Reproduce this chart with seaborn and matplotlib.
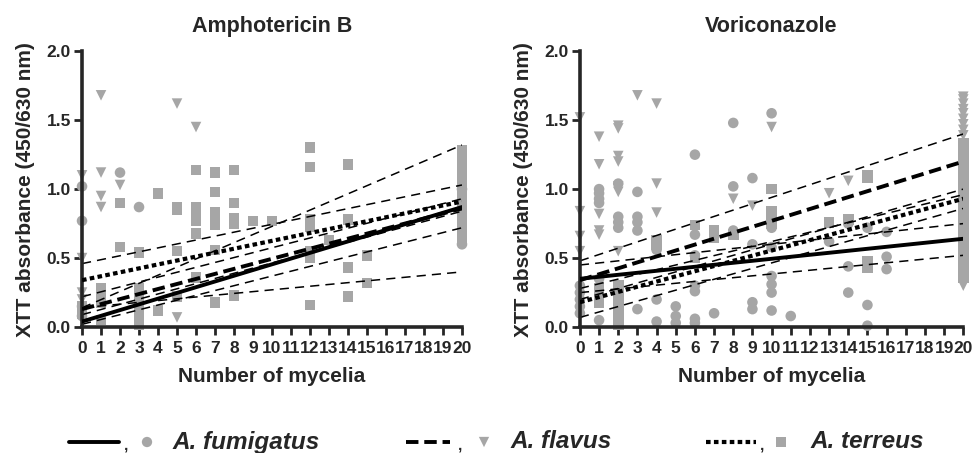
import numpy as np
import pandas as pd
import matplotlib
matplotlib.use('Agg')
import matplotlib.pyplot as plt
import seaborn as sns

# ---- data ----
species = ['A. fumigatus', 'A. flavus', 'A. terreus']

# Amphotericin B panel, scatter points
amb_fum_x = [0, 0, 0, 0, 2, 3, 20, 20]
amb_fum_y = [1.02, 0.77, 0.15, 0.08, 1.12, 0.87, 1.00, 0.60]
amb_flav_x = [0, 0, 0, 0, 1, 1, 1, 1, 2, 5, 5, 6]
amb_flav_y = [1.10, 0.50, 0.25, 0.20, 1.68, 1.12, 0.95, 0.87, 1.03, 1.62, 0.07, 1.45]
amb_terr_x = [0, 0, 1, 1, 1, 1, 2, 2, 3, 3, 3, 3, 3, 3, 4, 4, 5, 5, 5, 5,
              6, 6, 6, 6, 6, 6, 7, 7, 7, 7, 7, 7, 7, 8, 8, 8, 8, 8, 9, 10,
              12, 12, 12, 12, 12, 12, 12, 13, 14, 14, 14, 14, 15, 15,
              20, 20, 20, 20, 20, 20, 20, 20, 20, 20, 20, 20]
amb_terr_y = [0.15, 0.10, 0.28, 0.22, 0.18, 0.05, 0.90, 0.58, 0.54, 0.28, 0.20, 0.12, 0.05, 0.02,
              0.97, 0.12, 0.87, 0.85, 0.55, 0.22,
              1.14, 0.87, 0.82, 0.77, 0.68, 0.36, 1.12, 0.98, 0.83, 0.78, 0.74, 0.56, 0.18,
              1.14, 0.90, 0.79, 0.75, 0.23, 0.77, 0.77,
              1.30, 1.16, 0.78, 0.73, 0.55, 0.50, 0.16, 0.63, 1.18, 0.78, 0.43, 0.22, 0.52, 0.32,
              1.28, 1.25, 1.17, 1.10, 1.05, 0.95, 0.90, 0.85, 0.80, 0.75, 0.70, 0.65]

# Voriconazole panel, scatter points
vor_fum_x = [0, 0, 0, 0, 0, 1, 1, 1, 1, 1, 1, 2, 2, 2, 2, 2, 3, 3, 3, 3, 3,
             4, 4, 4, 5, 5, 5, 6, 6, 6, 6, 6, 6, 6, 7, 8, 8, 8, 9, 9, 9, 9,
             10, 10, 10, 10, 10, 10, 10, 10, 11, 13, 14, 14, 14, 15, 15, 15, 16, 16, 16]
vor_fum_y = [0.30, 0.25, 0.20, 0.15, 0.10, 1.00, 0.97, 0.93, 0.90, 0.35, 0.05,
             1.04, 0.80, 0.76, 0.72, 0.30, 0.98, 0.80, 0.76, 0.70, 0.13,
             0.56, 0.20, 0.04, 0.15, 0.08, 0.03, 1.25, 0.67, 0.52, 0.30, 0.26, 0.06, 0.03,
             0.10, 1.48, 1.02, 0.70, 1.08, 0.60, 0.18, 0.13,
             1.55, 0.78, 0.72, 0.58, 0.37, 0.31, 0.25, 0.12, 0.08, 0.62,
             0.75, 0.44, 0.25, 0.72, 0.16, 0.01, 0.69, 0.51, 0.42]
vor_flav_x = [0, 0, 0, 0, 1, 1, 1, 1, 1, 2, 2, 2, 2, 2, 2, 2, 3, 4, 4, 4,
              8, 9, 10, 13, 14,
              20, 20, 20, 20, 20, 20, 20, 20, 20, 20, 20, 20, 20, 20, 20]
vor_flav_y = [1.52, 0.84, 0.66, 0.55, 1.38, 1.18, 0.82, 0.70, 0.67,
              1.46, 1.44, 1.24, 1.20, 1.02, 0.98, 0.55, 1.68, 1.62, 1.04, 0.83,
              0.93, 0.88, 1.45, 0.97, 1.06,
              1.67, 1.65, 1.62, 1.58, 1.55, 1.51, 1.47, 1.43, 1.39, 0.50, 0.45, 0.41, 0.37, 0.33, 0.30]
vor_terr_x = [1, 1, 1, 2, 2, 2, 2, 2, 2, 2, 4, 4, 6, 6, 7, 7, 8,
              10, 10, 10, 10, 13, 14, 15, 15, 15, 15,
              20, 20, 20, 20, 20, 20, 20, 20, 20, 20, 20, 20, 20, 20, 20, 20, 20, 20, 20, 20, 20]
vor_terr_y = [0.28, 0.22, 0.18, 0.30, 0.25, 0.20, 0.15, 0.10, 0.06, 0.02,
              0.63, 0.60, 0.74, 0.50, 0.70, 0.65, 0.67,
              1.00, 0.84, 0.80, 0.75, 0.76, 0.78, 1.10, 1.08, 0.48, 0.43,
              1.33, 1.29, 1.24, 1.18, 1.13, 1.07, 1.02, 0.97, 0.92, 0.86, 0.81, 0.76,
              0.70, 0.65, 0.60, 0.55, 0.49, 0.44, 0.40, 0.36, 0.53]

# regression lines: value at x=0 and at x=20
amb_fit_start = [0.04, 0.13, 0.34]
amb_fit_end = [0.87, 0.86, 0.91]
amb_ci_start = [0.46, 0.14, 0.22, 0.09, 0.02, 0.14]
amb_ci_end = [1.03, 1.32, 0.93, 0.84, 0.72, 0.40]

vor_fit_start = [0.35, 0.34, 0.18]
vor_fit_end = [0.64, 1.20, 0.93]
vor_ci_start = [0.45, 0.25, 0.48, 0.20, 0.28, 0.07]
vor_ci_end = [0.75, 0.52, 1.40, 1.00, 0.96, 0.86]

fit_x = [0, 20]

sns.set_style('ticks')
plt.rcParams['font.family'] = ['Liberation Sans', 'DejaVu Sans']
plt.rcParams['font.weight'] = 'bold'

grey = '#a6a6a6'
markers = {'A. fumigatus': 'o', 'A. flavus': 'v', 'A. terreus': 's'}
fit_styles = [dict(ls='-', lw=2.8),
              dict(ls=(0, (3.2, 1.5)), lw=2.8),
              dict(ls=(0, (1.1, 0.8)), lw=3.0)]


def make_df(xs, ys):
    parts = []
    for name, x, y in zip(species, xs, ys):
        parts.append(pd.DataFrame({'x': x, 'y': y, 'species': name}))
    return pd.concat(parts, ignore_index=True)


amb = make_df([amb_fum_x, amb_flav_x, amb_terr_x], [amb_fum_y, amb_flav_y, amb_terr_y])
vor = make_df([vor_fum_x, vor_flav_x, vor_terr_x], [vor_fum_y, vor_flav_y, vor_terr_y])

fig = plt.figure(figsize=(9.73, 4.53), dpi=100)
ax1 = fig.add_axes([0.0843, 0.278, 0.3905, 0.609])
ax2 = fig.add_axes([0.596, 0.278, 0.394, 0.609])

panels = [(ax1, amb, 'Amphotericin B', amb_fit_start, amb_fit_end, amb_ci_start, amb_ci_end),
          (ax2, vor, 'Voriconazole', vor_fit_start, vor_fit_end, vor_ci_start, vor_ci_end)]

for ax, df, title, fs, fe, cs, ce in panels:
    sns.scatterplot(data=df, x='x', y='y', style='species', markers=markers,
                    color=grey, s=58, edgecolor='none', legend=False,
                    clip_on=False, ax=ax, zorder=1)
    # confidence bands (thin dashed)
    for a, b in zip(cs, ce):
        ax.plot(fit_x, [a, b], color='black', lw=1.1, ls=(0, (6, 4)), zorder=2)
    # fitted lines
    for a, b, st in zip(fs, fe, fit_styles):
        ax.plot(fit_x, [a, b], color='black', zorder=3, **st)

    ax.set_xlim(0, 20)
    ax.set_ylim(0, 2.0)
    ax.set_xticks(range(0, 21))
    ax.set_yticks([0, 0.5, 1.0, 1.5, 2.0])
    ax.set_yticklabels(['0.0', '0.5', '1.0', '1.5', '2.0'])
    ax.tick_params(width=2, length=6, labelsize=12.5, pad=2)
    ax.tick_params(axis='x', pad=4)
    for lab in ax.get_xticklabels() + ax.get_yticklabels():
        lab.set_fontweight('bold')
    sns.despine(ax=ax)
    for sp in ['left', 'bottom']:
        ax.spines[sp].set_linewidth(2.6)
    ax.set_xlabel('Number of mycelia', fontsize=15, fontweight='bold', labelpad=8)
    ax.set_ylabel('XTT absorbance (450/630 nm)', fontsize=15, fontweight='bold', labelpad=8)
    ax.set_title(title, fontsize=15.5, fontweight='bold', pad=14)

# legend row, drawn in a pixel-like helper axes
leg = fig.add_axes([0, 0, 1, 53 / 453])
leg.set_xlim(0, 973)
leg.set_ylim(453, 400)
leg.axis('off')
leg_line_x = [(69, 119), (406, 450), (706, 756)]
leg_comma_x = [124, 458, 760]
leg_mark_x = [147, 484, 781]
leg_text_x = [172, 510, 810]
leg_y = 442
for i, name in enumerate(species):
    leg.plot(leg_line_x[i], [leg_y, leg_y], color='black', **fit_styles[i])
    leg.text(leg_comma_x[i], leg_y + 3, ',', fontsize=11, va='center', ha='left')
    leg.scatter([leg_mark_x[i]], [leg_y], marker=markers[name], s=55,
                color=grey, edgecolor='none')
    leg.text(leg_text_x[i], leg_y, name, fontsize=17.5, fontweight='bold',
             fontstyle='italic', va='center', ha='left')

fig.savefig('out.png', dpi=100)
